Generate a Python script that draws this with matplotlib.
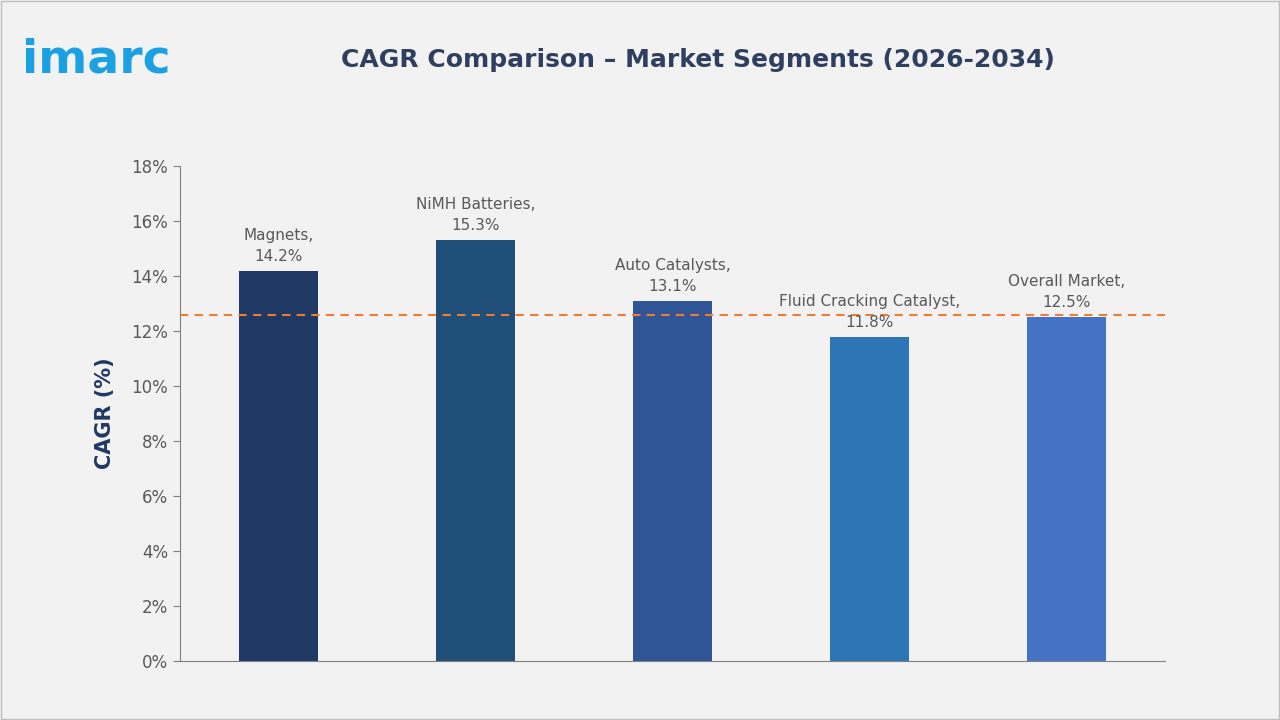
import matplotlib
matplotlib.use("Agg")
import matplotlib.pyplot as plt
from matplotlib.patches import Rectangle

categories = ["Magnets", "NiMH Batteries", "Auto Catalysts", "Fluid Cracking Catalyst", "Overall Market"]
cagr = [14.2, 15.3, 13.1, 11.8, 12.5]
bar_colors = ["#1F3864", "#1F4E79", "#2F5597", "#2E75B6", "#4472C4"]
yticks = [0, 2, 4, 6, 8, 10, 12, 14, 16, 18]
ref_line = 12.6

fig = plt.figure(figsize=(12.8, 7.2), dpi=100)
fig.patch.set_facecolor("#F2F2F2")
fig.add_artist(Rectangle((0.001, 0.001), 0.998, 0.998, transform=fig.transFigure,
                         fill=False, edgecolor="#BFBFBF", linewidth=1))

ax = fig.add_axes([0.1406, 0.082, 0.7694, 0.6874])
ax.set_facecolor("#F2F2F2")
x = range(len(categories))
ax.bar(x, cagr, width=0.4, color=bar_colors)
for i, (c, v) in enumerate(zip(categories, cagr)):
    ax.text(i, v + 0.25, f"{c},\n{v}%", ha="center", va="bottom",
            fontsize=11, color="#595959", linespacing=1.5)
ax.axhline(ref_line, color="#ED7D31", linestyle=(0, (4, 3)), linewidth=1.5)

ax.set_xlim(-0.5, 4.5)
ax.set_ylim(0, 18)
ax.set_yticks(yticks)
ax.set_yticklabels([f"{t}%" for t in yticks], fontsize=12, color="#595959")
ax.set_xticks([])
ax.tick_params(axis="y", length=5, color="#808080")
for s in ["top", "right"]:
    ax.spines[s].set_visible(False)
for s in ["left", "bottom"]:
    ax.spines[s].set_color("#808080")
ax.set_ylabel("CAGR (%)", fontsize=15, fontweight="bold", color="#1F3864", labelpad=12)

fig.text(0.545, 0.917, "CAGR Comparison \u2013 Market Segments (2026-2034)",
         ha="center", va="center", fontsize=18, fontweight="bold", color="#2F3F5F")
fig.text(0.017, 0.917, "imarc", ha="left", va="center", fontsize=34,
         fontweight="bold", color="#1BA1E2")

fig.savefig("out.png", dpi=100, facecolor=fig.get_facecolor())
